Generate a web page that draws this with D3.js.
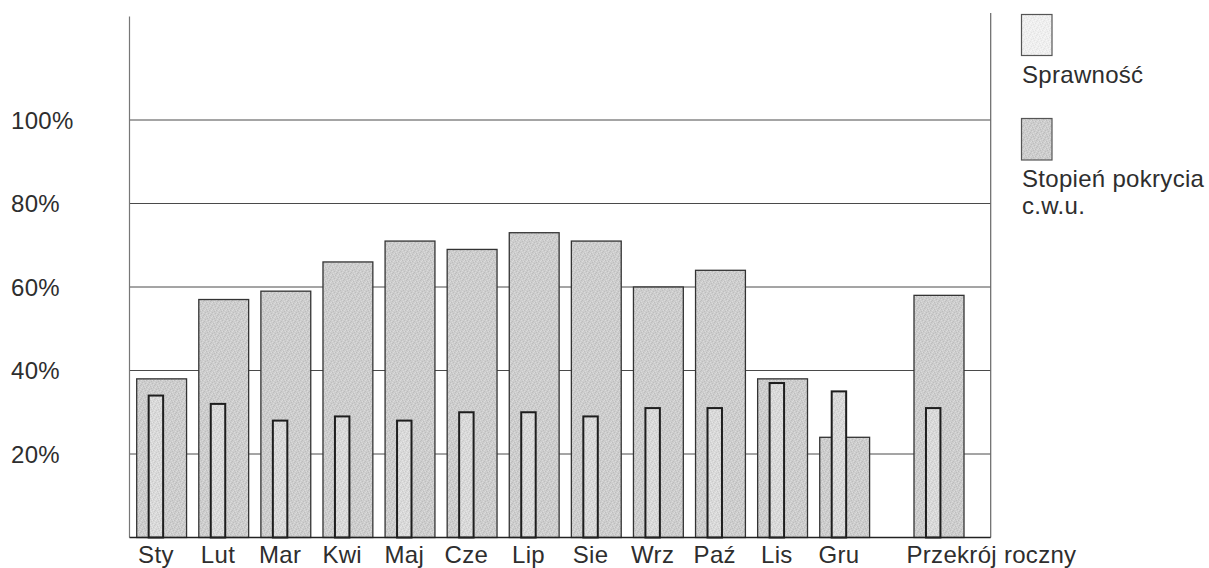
<!DOCTYPE html>
<html>
<head>
<meta charset="utf-8">
<script src="https://cdn.jsdelivr.net/npm/d3@7/dist/d3.min.js"></script>
<style>
  html, body { margin: 0; padding: 0; background: #fff; }
  svg { display: block; font-family: "Liberation Sans", Arial, sans-serif; }
  text { letter-spacing: 0.3px; }
</style>
</head>
<body>
<svg id="chart" width="1209" height="568"></svg>
<script>
// ---- data ----
const months = ["Sty", "Lut", "Mar", "Kwi", "Maj", "Cze", "Lip", "Sie", "Wrz", "Paź", "Lis", "Gru"];
const annualLabel = ["Przekrój roczny"];
const coverage = [38, 57, 59, 66, 71, 69, 73, 71, 60, 64, 38, 24];      // Stopień pokrycia c.w.u. (%)
const efficiency = [34, 32, 28, 29, 28, 30, 30, 29, 31, 31, 37, 35];    // Sprawność (%)
const annualCoverage = [58];
const annualEfficiency = [31];
const yTicks = [20, 40, 60, 80, 100];
const seriesNames = ["Sprawność", "Stopień pokrycia c.w.u."];

(function () {
const svg = d3.select("#chart");
const pLeft = 129.5, pRight = 990.7, pTop = 16.5, pBottom = 537.5;
const FS = 24, TXT = "#2e2e2e";

// texture patterns
const defs = svg.append("defs");
function texture(id, base, dark, light) {
  const p = defs.append("pattern").attr("id", id).attr("patternUnits", "userSpaceOnUse")
    .attr("width", 7).attr("height", 7);
  p.append("rect").attr("width", 7).attr("height", 7).attr("fill", base);
  [[0,0],[3,1],[6,2],[2,4],[5,5],[1,6],[4,3]].forEach(([px,py]) => p.append("rect").attr("x", px).attr("y", py).attr("width",1).attr("height",1).attr("fill", dark));
  [[1,2],[4,0],[0,4],[6,6],[3,5],[5,2],[2,1]].forEach(([px,py]) => p.append("rect").attr("x", px).attr("y", py).attr("width",1).attr("height",1).attr("fill", light));
}
texture("texBig", "#cdcdcd", "#bdbdbd", "#dbdbdb");
texture("texSmall", "#d9d9d9", "#cacaca", "#e6e6e6");
texture("texLeg1", "#efefef", "#e4e4e4", "#f7f7f7");

// scales
const y = d3.scaleLinear().domain([0, 125]).range([pBottom, pBottom - 125 * 4.175]);
const x = d3.scaleBand().domain(months).range([pLeft, 876.8]).paddingInner(0.197).paddingOuter(0.116);
const xA = d3.scaleBand().domain(annualLabel).range([914, 964]).padding(0);
const bw = x.bandwidth();
const sOff = bw * 0.24, sW = bw * 0.29;

// gridlines
svg.append("g").selectAll("line").data(yTicks).join("line")
  .attr("x1", pLeft).attr("x2", pRight)
  .attr("y1", d => y(d)).attr("y2", d => y(d))
  .attr("stroke", "#4a4a4a").attr("stroke-width", 1);

// y tick labels
svg.append("g").selectAll("text").data(yTicks).join("text")
  .attr("x", 11).attr("y", d => y(d) + 8.8)
  .attr("font-size", FS).attr("fill", TXT)
  .text(d => d + "%");

// frame lines
svg.append("line").attr("x1", pLeft).attr("x2", pLeft).attr("y1", pTop).attr("y2", pBottom)
  .attr("stroke", "#777").attr("stroke-width", 1.2);
svg.append("line").attr("x1", pRight).attr("x2", pRight).attr("y1", 13).attr("y2", pBottom)
  .attr("stroke", "#666").attr("stroke-width", 1.2);

const monthData = months.map((m, i) => ({ m, c: coverage[i], e: efficiency[i] }));
const annualData = annualLabel.map((m, i) => ({ m, c: annualCoverage[i], e: annualEfficiency[i] }));

function drawBars(data, sc) {
  const w = sc.bandwidth();
  const g = svg.append("g");
  g.selectAll("rect.big").data(data).join("rect").attr("class", "big")
    .attr("x", d => sc(d.m)).attr("width", w)
    .attr("y", d => y(d.c)).attr("height", d => y(0) - y(d.c))
    .attr("fill", "url(#texBig)").attr("stroke", "#333").attr("stroke-width", 1.3);
  g.selectAll("rect.small").data(data).join("rect").attr("class", "small")
    .attr("x", d => sc(d.m) + sOff).attr("width", sW)
    .attr("y", d => y(d.e)).attr("height", d => y(0) - y(d.e))
    .attr("fill", "url(#texSmall)").attr("stroke", "#1e1e1e").attr("stroke-width", 2);
}
drawBars(monthData, x);
drawBars(annualData, xA);

// bottom axis line
svg.append("line").attr("x1", pLeft).attr("x2", pRight).attr("y1", pBottom).attr("y2", pBottom)
  .attr("stroke", "#222").attr("stroke-width", 1.5);

// category labels
svg.append("g").selectAll("text").data(months).join("text")
  .attr("x", d => x(d) + sOff + sW / 2).attr("y", 563)
  .attr("text-anchor", "middle").attr("font-size", FS).attr("fill", TXT)
  .text(d => d);
svg.append("g").selectAll("text").data(annualLabel).join("text")
  .attr("x", d => xA(d) - 7.5).attr("y", 563)
  .attr("font-size", FS).attr("fill", TXT)
  .text(d => d);

// legend
const leg = svg.append("g");
leg.append("rect").attr("x", 1021.5).attr("y", 14.5).attr("width", 30.5).attr("height", 41)
  .attr("fill", "url(#texLeg1)").attr("stroke", "#555").attr("stroke-width", 1.2);
leg.append("text").attr("x", 1022).attr("y", 82.5).attr("font-size", FS).attr("fill", TXT).text(seriesNames[0]);
leg.append("rect").attr("x", 1021.5).attr("y", 118.5).attr("width", 30.5).attr("height", 41.5)
  .attr("fill", "url(#texBig)").attr("stroke", "#555").attr("stroke-width", 1.2);
const parts = ["Stopień pokrycia", "c.w.u."];
leg.append("text").attr("x", 1022).attr("y", 187.3).attr("font-size", FS).attr("fill", TXT).text(parts[0]);
leg.append("text").attr("x", 1022).attr("y", 214.3).attr("font-size", FS).attr("fill", TXT).text(parts[1]);
})();
</script>
</body>
</html>
